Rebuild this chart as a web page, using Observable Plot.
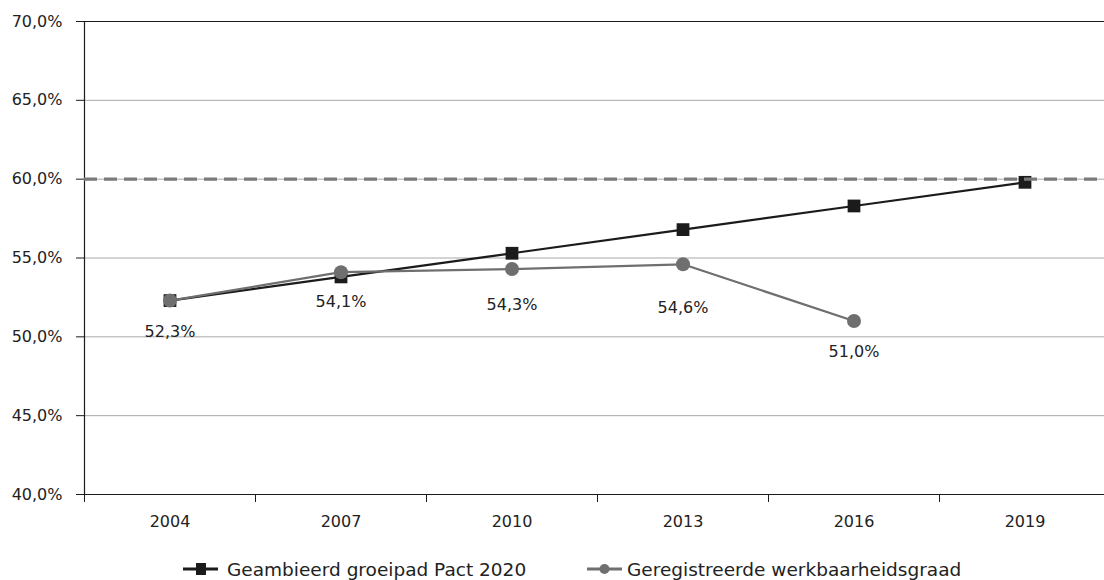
<!DOCTYPE html>
<html>
<head>
<meta charset="utf-8">
<script src="https://cdn.jsdelivr.net/npm/d3@7"></script>
<script src="https://cdn.jsdelivr.net/npm/@observablehq/plot@0.6"></script>
<style>
  html, body { margin: 0; padding: 0; background: #fff; overflow: hidden; width: 1104px; height: 580px; }
  #chart { position: relative; width: 1104px; height: 540px; overflow: hidden; }
  #chart svg { max-width: none !important; }
  #legend { position: relative; width: 1104px; height: 40px; font-family: "DejaVu Sans", sans-serif; font-size: 18.5px; color: #222; }
  .item { position: absolute; top: 18px; height: 22px; display: flex; align-items: center; white-space: nowrap; }
</style>
</head>
<body>
<div id="chart"></div>
<div id="legend"></div>
<script>
const years = ["2004", "2007", "2010", "2013", "2016", "2019"];
const pactValues = [52.3, 53.8, 55.3, 56.8, 58.3, 59.8];
const registeredValues = [52.3, 54.1, 54.3, 54.6, 51.0];
const targetValue = 60;
const yTicks = [40, 45, 50, 55, 60, 65, 70];
const seriesNames = ["Geambieerd groeipad Pact 2020", "Geregistreerde werkbaarheidsgraad"];

const pact = pactValues.map((v, i) => ({i, v}));
const registered = registeredValues.map((v, i) => ({i, v}));
const fmt = v => v.toFixed(1).replace(".", ",") + "%";
const boundaries = d3.range(years.length + 1).map(i => i - 0.5);
// vertical label nudges (styling, as in the source chart)
const labelDy = [31, 30, 36, 44, 31];

const BLACK = "#1b1b1b";
const GREY = "#6f6f6f";
const GRID = "#a8a8a8";

const plot = Plot.plot({
  width: 1110,
  height: 540,
  marginLeft: 84,
  marginRight: 0,
  marginTop: 21,
  marginBottom: 46,
  style: {fontFamily: "'DejaVu Sans', sans-serif", fontSize: "16px", color: "#222", background: "#fff", maxWidth: "none"},
  x: {type: "linear", domain: [-0.5, years.length - 0.5], range: [84, 1110], axis: null},
  y: {domain: [40, 70], axis: null},
  marks: [
    Plot.ruleY(yTicks.filter(t => t > 40 && t < 70), {stroke: GRID, strokeWidth: 1}),
    Plot.ruleY([70], {stroke: BLACK, strokeWidth: 1.2}),
    Plot.axisY(yTicks, {label: null, tickSize: 8, tickPadding: 14, tickFormat: fmt, stroke: BLACK, fill: "#222", fontSize: 16}),
    Plot.axisX(years.map((_, i) => i), {label: null, tickSize: 0, tickPadding: 21, tickFormat: i => years[i], fill: "#222", fontSize: 16}),
    Plot.axisX(boundaries, {label: null, tickSize: 8, tickFormat: () => "", stroke: BLACK}),
    Plot.ruleY([40], {stroke: BLACK, strokeWidth: 1.2}),
    Plot.ruleX([-0.5], {y1: 40, y2: 70, stroke: BLACK, strokeWidth: 1.2}),
    Plot.line(pact, {x: "i", y: "v", stroke: BLACK, strokeWidth: 2.2}),
    Plot.dot(pact, {x: "i", y: "v", symbol: "square", r: 7.2, fill: BLACK, stroke: "none"}),
    Plot.ruleY([targetValue], {stroke: "#7a7a7a", strokeWidth: 3.2, strokeDasharray: "13,7"}),
    Plot.line(registered, {x: "i", y: "v", stroke: GREY, strokeWidth: 2.2}),
    Plot.dot(registered, {x: "i", y: "v", r: 7, fill: GREY, stroke: "none"}),
    ...registered.map((d, k) => Plot.text([d], {x: "i", y: "v", text: d => fmt(d.v), dy: labelDy[k], fill: "#222", fontSize: 16}))
  ]
});
document.getElementById("chart").appendChild(plot);

// legend
const legend = document.getElementById("legend");
function addItem(left, gap, name, color, shape) {
  const item = document.createElement("div");
  item.className = "item";
  item.style.left = left + "px";
  const ns = "http://www.w3.org/2000/svg";
  const s = document.createElementNS(ns, "svg");
  s.setAttribute("width", 35); s.setAttribute("height", 16);
  s.style.marginRight = gap + "px";
  const ln = document.createElementNS(ns, "line");
  ln.setAttribute("x1", 0); ln.setAttribute("x2", 35); ln.setAttribute("y1", 8); ln.setAttribute("y2", 8);
  ln.setAttribute("stroke", color); ln.setAttribute("stroke-width", 3);
  s.appendChild(ln);
  let m;
  if (shape === "square") {
    m = document.createElementNS(ns, "rect");
    m.setAttribute("x", 13); m.setAttribute("y", 2); m.setAttribute("width", 10); m.setAttribute("height", 12);
  } else {
    m = document.createElementNS(ns, "circle");
    m.setAttribute("cx", 17.5); m.setAttribute("cy", 8); m.setAttribute("r", 5);
  }
  m.setAttribute("fill", color);
  s.appendChild(m);
  item.appendChild(s);
  const t = document.createElement("span");
  t.textContent = name;
  item.appendChild(t);
  legend.appendChild(item);
}
addItem(183, 9, seriesNames[0], BLACK, "square");
addItem(587, 5, seriesNames[1], GREY, "circle");
</script>
</body>
</html>
